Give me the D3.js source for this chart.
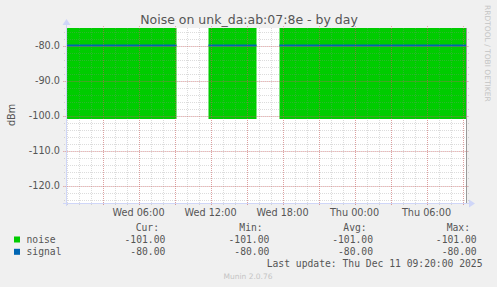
<!DOCTYPE html>
<html>
<head>
<meta charset="utf-8">
<script src="https://cdn.jsdelivr.net/npm/d3@7"></script>
<style>
  body { margin: 0; background: #f0f0f0; }
  svg { display: block; }
</style>
</head>
<body>
<svg id="chart"></svg>
<script>
// data segments (gaps = no data)
var segStart = ["2025-12-10 00:00", "2025-12-10 11:50", "2025-12-10 17:45"];
var segEnd   = ["2025-12-10 09:10", "2025-12-10 15:50", "2025-12-11 09:20"];
var noise  = [-101, -101, -101];
var signal = [-80, -80, -80];

var legendNames = ["noise", "signal"];
var legendColors = ["#00cc00", "#0066b3"];
var statHeads = ["Cur:", "Min:", "Avg:", "Max:"];
var statNoise  = ["-101.00", "-101.00", "-101.00", "-101.00"];
var statSignal = ["-80.00", "-80.00", "-80.00", "-80.00"];
var yTicks = [-80, -90, -100, -110, -120];

var width = 497, height = 287;
var parse = d3.utcParse("%Y-%m-%d %H:%M");
var tStart = parse("2025-12-10 00:00"), tEnd = parse("2025-12-11 09:20");

var svg = d3.select("#chart").attr("width", width).attr("height", height);
svg.append("rect").attr("width", width).attr("height", height).attr("fill", "#f0f0f0");

var x = d3.scaleUtc().domain([tStart, tEnd]).range([66.5, 466.5]);
var y = d3.scaleLinear().domain([-125, -75]).range([203, 28]);

var sans = "DejaVu Sans, sans-serif";
var mono = "DejaVu Sans Mono, monospace";
var fontCol = "#555";

// canvas
svg.append("rect").attr("x", 66.5).attr("y", 28).attr("width", 400).attr("height", 175).attr("fill", "#fff");

svg.append("clipPath").attr("id", "clip")
  .append("rect").attr("x", 66.5).attr("y", 28).attr("width", 400).attr("height", 175);

var segs = segStart.map(function(s, i) {
  return {t0: parse(s), t1: parse(segEnd[i]), noise: noise[i], signal: signal[i]};
});

var plot = svg.append("g").attr("clip-path", "url(#clip)");

var area = d3.area().x(function(d) { return x(d.t); }).y0(y(0)).y1(function(d) { return y(d.v); });
var line = d3.line().x(function(d) { return x(d.t); }).y(function(d) { return y(d.v); });

segs.forEach(function(s) {
  plot.append("path")
    .datum([{t: s.t0, v: s.noise}, {t: s.t1, v: s.noise}])
    .attr("d", area).attr("fill", "#00cc00");
});
segs.forEach(function(s) {
  plot.append("path")
    .datum([{t: s.t0, v: s.signal}, {t: s.t1, v: s.signal}])
    .attr("d", line).attr("fill", "none").attr("stroke", "#0066b3").attr("stroke-width", 2);
});

// grid on top, semi transparent
var minorCol = "rgba(140,140,140,0.3)";
var majorCol = "rgba(220,70,70,0.4)";
var grid = svg.append("g");
var minorX = d3.utcHour.every(1).range(tStart, tEnd);
var majorX = d3.utcHour.every(3).range(tStart, tEnd);
grid.selectAll(".mx").data(minorX).enter().append("line")
  .attr("x1", function(d) { return Math.round(x(d)) + 0.5; })
  .attr("x2", function(d) { return Math.round(x(d)) + 0.5; })
  .attr("y1", 28).attr("y2", 206)
  .attr("stroke", minorCol).attr("stroke-dasharray", "1,1");
grid.selectAll(".my").data(d3.range(-124, -74, 2)).enter().append("line")
  .attr("x1", 64).attr("x2", 469)
  .attr("y1", function(d) { return Math.round(y(d)) + 0.5; })
  .attr("y2", function(d) { return Math.round(y(d)) + 0.5; })
  .attr("stroke", minorCol).attr("stroke-dasharray", "1,1");
grid.selectAll(".Mx").data(majorX.filter(function(d) { return +d !== +tStart; })).enter().append("line")
  .attr("x1", function(d) { return Math.round(x(d)) + 0.5; })
  .attr("x2", function(d) { return Math.round(x(d)) + 0.5; })
  .attr("y1", 26).attr("y2", 206)
  .attr("stroke", majorCol).attr("stroke-dasharray", "1,1");
grid.selectAll(".My").data(yTicks).enter().append("line")
  .attr("x1", 63).attr("x2", 469)
  .attr("y1", function(d) { return Math.round(y(d)) + 0.5; })
  .attr("y2", function(d) { return Math.round(y(d)) + 0.5; })
  .attr("stroke", majorCol).attr("stroke-dasharray", "1,1");

// axes
var axisCol = "#cfd6f8";
svg.append("line").attr("x1", 66.5).attr("x2", 66.5).attr("y1", 206).attr("y2", 24).attr("stroke", axisCol);
svg.append("line").attr("x1", 63).attr("x2", 470).attr("y1", 203.5).attr("y2", 203.5).attr("stroke", axisCol);
svg.append("path").attr("d", "M62.5,25 L70.5,25 L66.5,19 Z").attr("fill", axisCol);
svg.append("path").attr("d", "M469,199.5 L469,207.5 L475,203.5 Z").attr("fill", axisCol);
// right frame
svg.append("line").attr("x1", 466.5).attr("x2", 466.5).attr("y1", 28).attr("y2", 203).attr("stroke", "#999");

// tick labels
var labX = d3.utcHour.every(6).range(tStart, tEnd).filter(function(d) { return +d !== +tStart; });
svg.selectAll(".xl").data(labX).enter().append("text")
  .attr("x", function(d) { return x(d); }).attr("y", 215.5)
  .attr("text-anchor", "middle").attr("font-family", sans).attr("font-size", "9.7px").attr("fill", fontCol)
  .text(d3.utcFormat("%a %H:%M"));
svg.selectAll(".yl").data(yTicks).enter().append("text")
  .attr("x", 60).attr("y", function(d) { return y(d) + 3.5; })
  .attr("text-anchor", "end").attr("font-family", sans).attr("font-size", "9.7px").attr("fill", fontCol)
  .text(function(d) { return d3.format(".1f")(d).replace("−", "-"); });

// titles
svg.append("text").attr("x", 249).attr("y", 24).attr("text-anchor", "middle")
  .attr("font-family", sans).attr("font-size", "12.5px").attr("fill", fontCol)
  .text("Noise on unk_da:ab:07:8e - by day");
svg.append("text").attr("transform", "translate(14.5,115) rotate(-90)").attr("text-anchor", "middle")
  .attr("font-family", sans).attr("font-size", "9.7px").attr("fill", fontCol).text("dBm");
svg.append("text").attr("transform", "translate(485,5) rotate(90)").attr("text-anchor", "start")
  .attr("font-family", sans).attr("font-size", "7.5px").attr("fill", "#c4c4c4").text("RRDTOOL / TOBI OETIKER");

// legend
var colHeadX = [159, 262.7, 366.7, 470];
var colValX = [165.3, 269.3, 373, 476.7];
svg.selectAll(".sh").data(statHeads).enter().append("text")
  .attr("x", function(d, i) { return colHeadX[i]; }).attr("y", 231)
  .attr("text-anchor", "end").attr("font-family", mono).attr("font-size", "9.7px").attr("fill", fontCol)
  .text(function(d) { return d; });
[statNoise, statSignal].forEach(function(vals, r) {
  var yy = 243 + r * 12.3;
  svg.append("rect").attr("x", 14).attr("y", yy - 6.5).attr("width", 6).attr("height", 6).attr("fill", legendColors[r]);
  svg.append("text").attr("x", 26.5).attr("y", yy).attr("font-family", mono).attr("font-size", "9.7px")
    .attr("fill", fontCol).text(legendNames[r]);
  svg.selectAll(".v" + r).data(vals).enter().append("text")
    .attr("x", function(d, i) { return colValX[i]; }).attr("y", yy)
    .attr("text-anchor", "end").attr("font-family", mono).attr("font-size", "9.7px").attr("fill", fontCol)
    .text(function(d) { return d; });
});
svg.append("text").attr("x", 482.5).attr("y", 267.3).attr("text-anchor", "end")
  .attr("font-family", mono).attr("font-size", "9.7px").attr("fill", fontCol)
  .text("Last update: Thu Dec 11 09:20:00 2025");
svg.append("text").attr("x", 248).attr("y", 279).attr("text-anchor", "middle")
  .attr("font-family", sans).attr("font-size", "7.5px").attr("fill", "#c4c4c4").text("Munin 2.0.76");
</script>
</body>
</html>
